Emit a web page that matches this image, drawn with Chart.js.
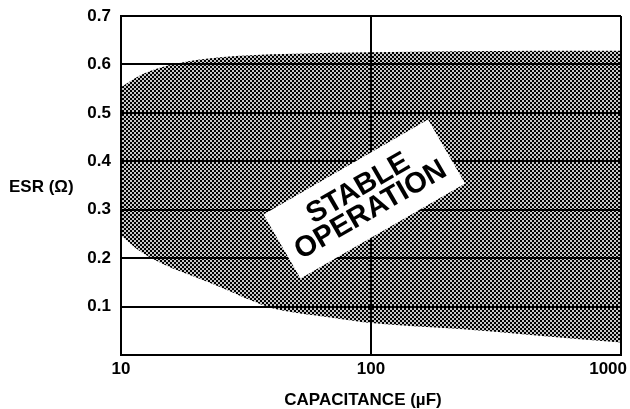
<!DOCTYPE html>
<html>
<head>
<meta charset="utf-8">
<script src="https://cdn.jsdelivr.net/npm/chart.js@4.4.0/dist/chart.umd.min.js"></script>
<style>
  html, body { margin: 0; padding: 0; background: #fff; }
  #wrap { width: 630px; height: 409px; }
</style>
</head>
<body>
<div id="wrap"><canvas id="esrChart" width="630" height="409"></canvas></div>
<script>
// capacitance points (uF) where the edges of the stable region were read
const capValues = [10, 12, 15, 20, 25, 33, 40, 50, 70, 100, 220, 470, 1000];
// upper ESR limit (ohm)
const esrUpper = [0.553, 0.578, 0.596, 0.609, 0.615, 0.619, 0.621, 0.622, 0.624, 0.625, 0.627, 0.628, 0.628];
// lower ESR limit (ohm)
const esrLower = [0.247, 0.213, 0.186, 0.160, 0.140, 0.113, 0.097, 0.087, 0.077, 0.066, 0.054, 0.040, 0.026];
const xTickValues = [10, 100, 1000];
const yMin = 0, yMax = 0.7, yStep = 0.1;
// where the "STABLE OPERATION" tag sits (data coords)
const tagAt = [94, 0.322];

const FONT = '"Liberation Sans", Arial, Helvetica, sans-serif';

const canvas = document.getElementById('esrChart');
const ctx = canvas.getContext('2d');

// checkerboard fill like the dithered shading of the datasheet
function makeChecker() {
    const c = document.createElement('canvas');
    c.width = 4; c.height = 4;
    const p = c.getContext('2d');
    p.fillStyle = '#c8c8c8';
    p.fillRect(0, 0, 4, 4);
    p.fillStyle = '#000';
    p.fillRect(0, 0, 2, 2);
    p.fillRect(2, 2, 2, 2);
    return ctx.createPattern(c, 'repeat');
}

const textPlugin = {
    id: 'esrText',
    afterDraw(chart) {
        const { ctx, chartArea, scales } = chart;
        const x = scales.x, y = scales.y;
        ctx.save();
        ctx.fillStyle = '#000';
        ctx.font = 'bold 17px ' + FONT;
        ctx.textBaseline = 'middle';

        // y title is horizontal in the original
        ctx.textAlign = 'left';
        ctx.fillText('ESR (\u03A9)', 9, 187);

        // last x tick label, pulled inside the canvas
        ctx.textAlign = 'right';
        ctx.fillText('1000', chartArea.right + 6, chartArea.bottom + 14);

        // x title
        ctx.textAlign = 'center';
        ctx.fillText('CAPACITANCE (\u00B5F)', 363, 400);

        // rotated white tag
        const cx = x.getPixelForValue(tagAt[0]);
        const cy = y.getPixelForValue(tagAt[1]);
        ctx.translate(cx, cy);
        ctx.rotate(-30 * Math.PI / 180);
        ctx.fillStyle = '#fff';
        ctx.fillRect(-95, -37, 190, 74);
        ctx.fillStyle = '#000';
        ctx.font = 'bold 29px ' + FONT;
        ctx.fillText('STABLE', 0, -12);
        ctx.fillText('OPERATION', 0, 13);
        ctx.restore();
    }
};

const upperPts = capValues.map((c, i) => ({ x: c, y: esrUpper[i] }));
const lowerPts = capValues.map((c, i) => ({ x: c, y: esrLower[i] }));

new Chart(ctx, {
    type: 'line',
    data: {
        datasets: [
            {
                label: 'upper',
                data: upperPts,
                fill: '+1',
                backgroundColor: makeChecker(),
                borderColor: 'rgba(0,0,0,0)',
                borderWidth: 0,
                pointRadius: 0,
                cubicInterpolationMode: 'monotone'
            },
            {
                label: 'lower',
                data: lowerPts,
                fill: false,
                borderColor: 'rgba(0,0,0,0)',
                borderWidth: 0,
                pointRadius: 0,
                cubicInterpolationMode: 'monotone'
            }
        ]
    },
    options: {
        responsive: false,
        animation: false,
        layout: { padding: { left: 0, top: 16, right: 9, bottom: 0 } },
        plugins: {
            legend: { display: false },
            tooltip: { enabled: false }
        },
        scales: {
            x: {
                type: 'logarithmic',
                min: 10,
                max: 1000,
                afterBuildTicks(scale) {
                    scale.ticks = xTickValues.map(v => ({ value: v }));
                },
                afterFit(scale) {
                    scale.height = 54;
                },
                grid: { color: '#000', lineWidth: 2, drawTicks: false, z: 1 },
                border: { color: '#000', width: 2, z: 1 },
                ticks: {
                    padding: 4,
                    color: '#000',
                    font: { family: FONT, size: 17, weight: 'bold' },
                    maxRotation: 0,
                    autoSkip: false,
                    callback: v => (v === 1000 ? '' : String(v))
                }
            },
            y: {
                min: yMin,
                max: yMax,
                afterFit(scale) {
                    scale.width = 121;
                    scale.paddingTop = 0;
                    scale.paddingBottom = 0;
                },
                grid: { color: '#000', lineWidth: 2, drawTicks: false, z: 1 },
                border: { color: '#000', width: 2, z: 1 },
                ticks: {
                    stepSize: yStep,
                    padding: 10,
                    color: '#000',
                    font: { family: FONT, size: 17, weight: 'bold' },
                    callback: v => (v === 0 ? '' : v.toFixed(1))
                }
            }
        }
    },
    plugins: [textPlugin]
});
</script>
</body>
</html>
